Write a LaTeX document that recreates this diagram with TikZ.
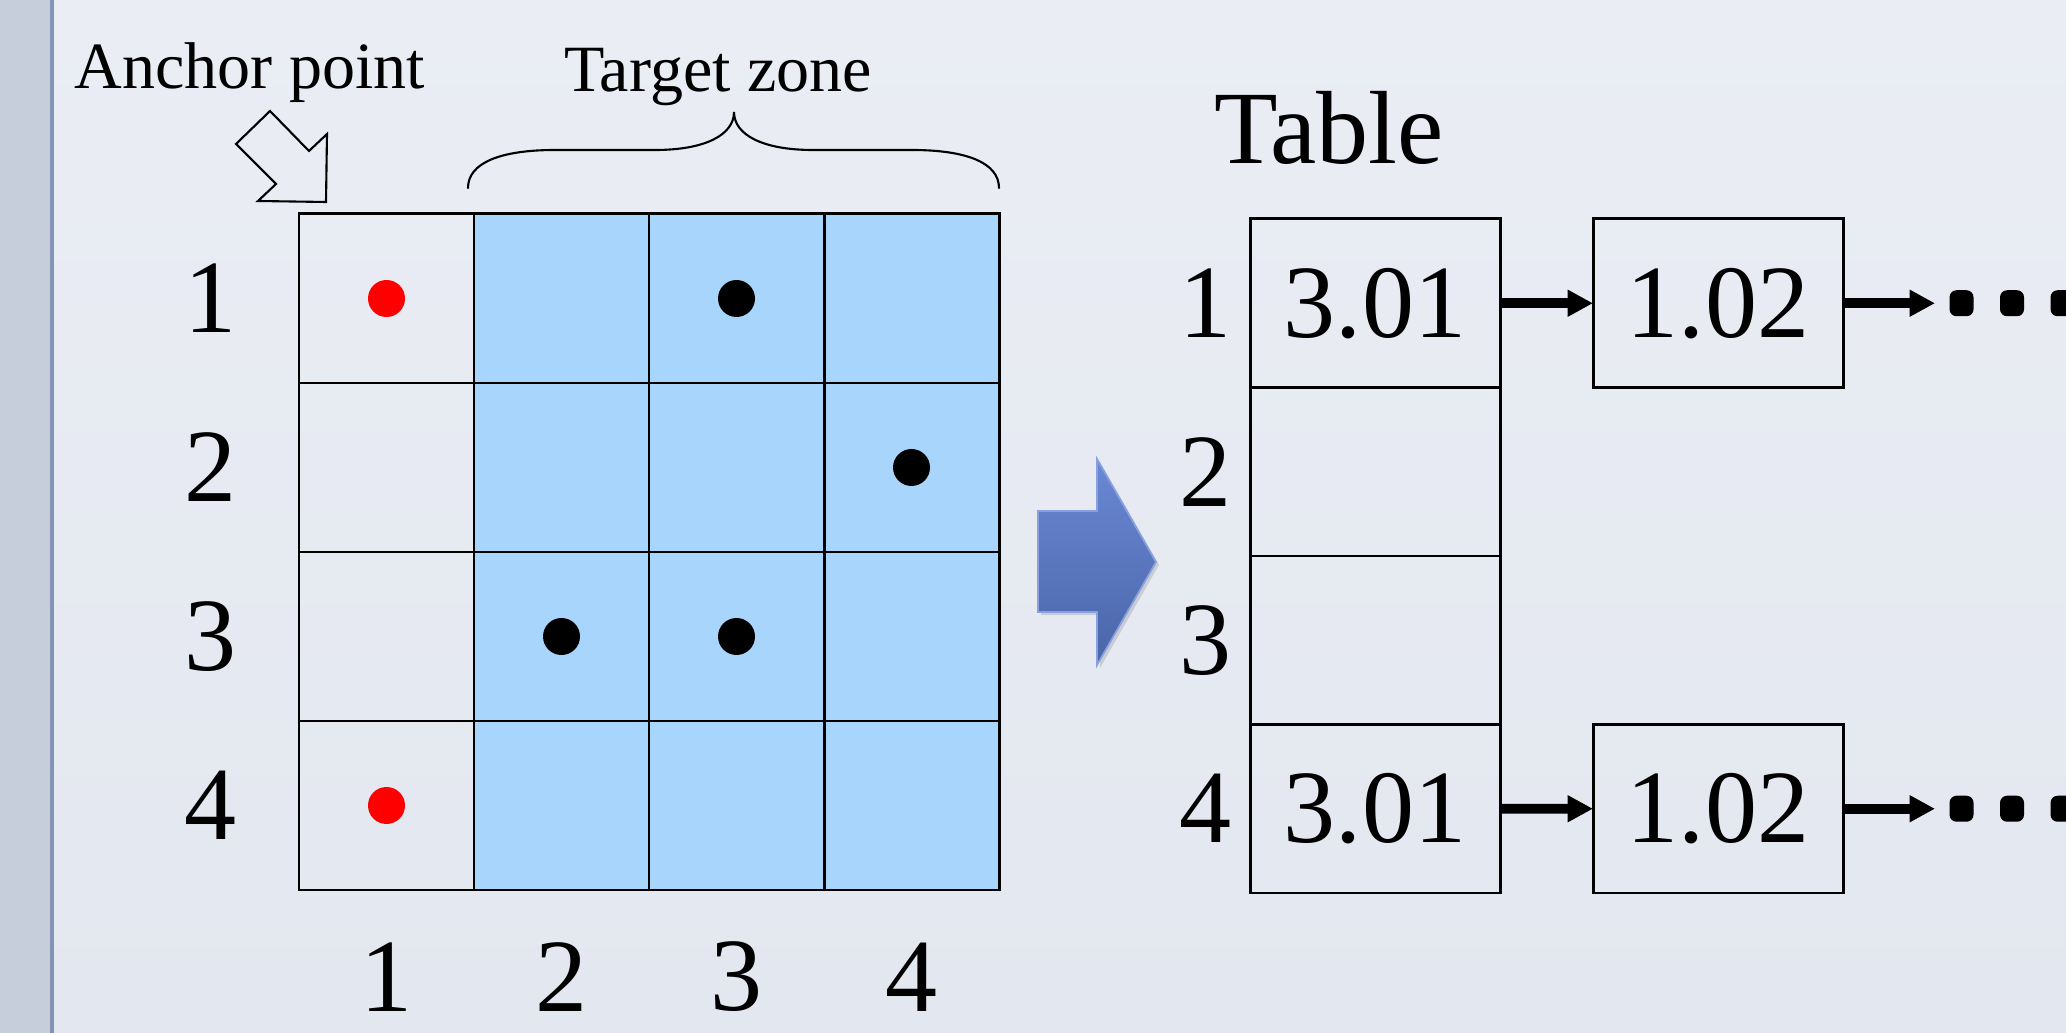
\documentclass[tikz,border=0pt]{standalone}
\usepackage{fontspec}
\setmainfont{Liberation Serif}
\usetikzlibrary{arrows.meta}
\definecolor{bgtop}{HTML}{EAEDF4}
\definecolor{bgbot}{HTML}{E3E7EF}
\definecolor{stripfill}{HTML}{C6CDDB}
\definecolor{stripline}{HTML}{8494B6}
\definecolor{zoneblue}{HTML}{A8D5FC}
\definecolor{arrowtop}{HTML}{6A88D4}
\definecolor{arrowbot}{HTML}{4A65A8}
\newcommand\bigfont{\fontsize{29.6}{32}\selectfont}
\newcommand\smallfont{\fontsize{18.8}{21}\selectfont}

\begin{document}
\begin{tikzpicture}[>={Triangle[length=7.2pt,width=7.2pt]},line cap=round,
  cell/.style={draw,line width=0.85pt,minimum width=1.75cm,minimum height=1.69cm,inner sep=0pt,outer sep=0pt},
  slot/.style={draw,line width=0.85pt,minimum width=2.5cm,minimum height=1.685cm,inner sep=0pt,outer sep=0pt,font=\bigfont},
  biglabel/.style={font=\bigfont,inner sep=0pt},
  smalllabel/.style={font=\smallfont,inner sep=0pt,anchor=base},
  link/.style={->,line width=2.8pt,line cap=butt}]
\useasboundingbox (0,0) rectangle (20.66,10.33);
\shade[top color=bgtop,bottom color=bgbot] (0,0) rectangle (20.66,10.33);
\fill[stripfill] (0,0) rectangle (0.50,10.33);
\draw[stripline,line width=1.2pt] (0.52,0) -- (0.52,10.33);

\foreach \r in {1,...,4} {
  \node[cell] (g\r1) at (3.865,{9.035-1.69*\r}) {};
  \foreach \c in {2,3,4}
    \node[cell,fill=zoneblue] (g\r\c) at ({2.115+1.75*\c},{9.035-1.69*\r}) {};
  \node[biglabel] (rl\r) at (2.11,{9.035-1.69*\r}) {\r};
  \node[biglabel] (cl\r) at ({2.115+1.75*\r},0.56) {\r};
}
\fill[red] (g11) circle (0.185);
\fill[red] (g41) circle (0.185);
\foreach \p in {g13,g24,g32,g33}
  \fill (\p) circle (0.185);

\node[smalllabel] (anchortxt) at (2.50,9.44) {Anchor point};
\draw[line width=0.6pt,line join=miter] (2.70,9.22) -- (3.09,8.82) -- (3.27,8.99) -- (3.26,8.31)
  -- (2.58,8.32) -- (2.76,8.49) -- (2.36,8.89) -- cycle;

\node[smalllabel] (zonetxt) at (7.18,9.41) {Target zone};
\draw[line width=0.6pt] (4.68,8.45) .. controls (4.68,8.70) and (5.00,8.83) .. (5.55,8.83)
  -- (6.55,8.83) .. controls (7.05,8.83) and (7.34,8.98) .. (7.34,9.21)
  .. controls (7.34,8.98) and (7.63,8.83) .. (8.13,8.83)
  -- (9.12,8.83) .. controls (9.67,8.83) and (9.99,8.70) .. (9.99,8.45);

\fill[black,opacity=0.12] (10.41,5.19) -- (11.00,5.19) -- (11.00,5.71) -- (11.59,4.68)
  -- (11.00,3.65) -- (11.00,4.18) -- (10.41,4.18) -- cycle;
\shade[top color=arrowtop,bottom color=arrowbot,draw=arrowtop!80!white,line width=0.5pt]
  (10.38,5.22) -- (10.97,5.22) -- (10.97,5.74) -- (11.56,4.71)
  -- (10.97,3.68) -- (10.97,4.21) -- (10.38,4.21) -- cycle;

\node[biglabel,anchor=base] (tabletxt) at (13.29,8.69) {Table};
\foreach \r/\v in {1/3.01,2/,3/,4/3.01} {
  \node[slot] (t\r) at (13.75,{8.9825-1.685*\r}) {\v};
  \node[biglabel] (tl\r) at (12.05,{8.9825-1.685*\r}) {\r};
}
\node[slot] (b1) at (17.18,7.2975) {1.02};
\node[slot] (b4) at (17.18,2.2425) {1.02};
\coordinate (e1) at (19.35,7.2975);
\coordinate (e4) at (19.35,2.2425);
\draw[link] (t1) -- (b1);
\draw[link] (b1) -- (e1);
\draw[link] (t4) -- (b4);
\draw[link] (b4) -- (e4);
\foreach \e in {e1,e4}
  \foreach \dx in {0.265,0.77,1.275}
    \fill[rounded corners=0.07cm] ([shift={(\dx-0.12,-0.13)}]\e) rectangle ++(0.24,0.26);
\end{tikzpicture}
\end{document}
